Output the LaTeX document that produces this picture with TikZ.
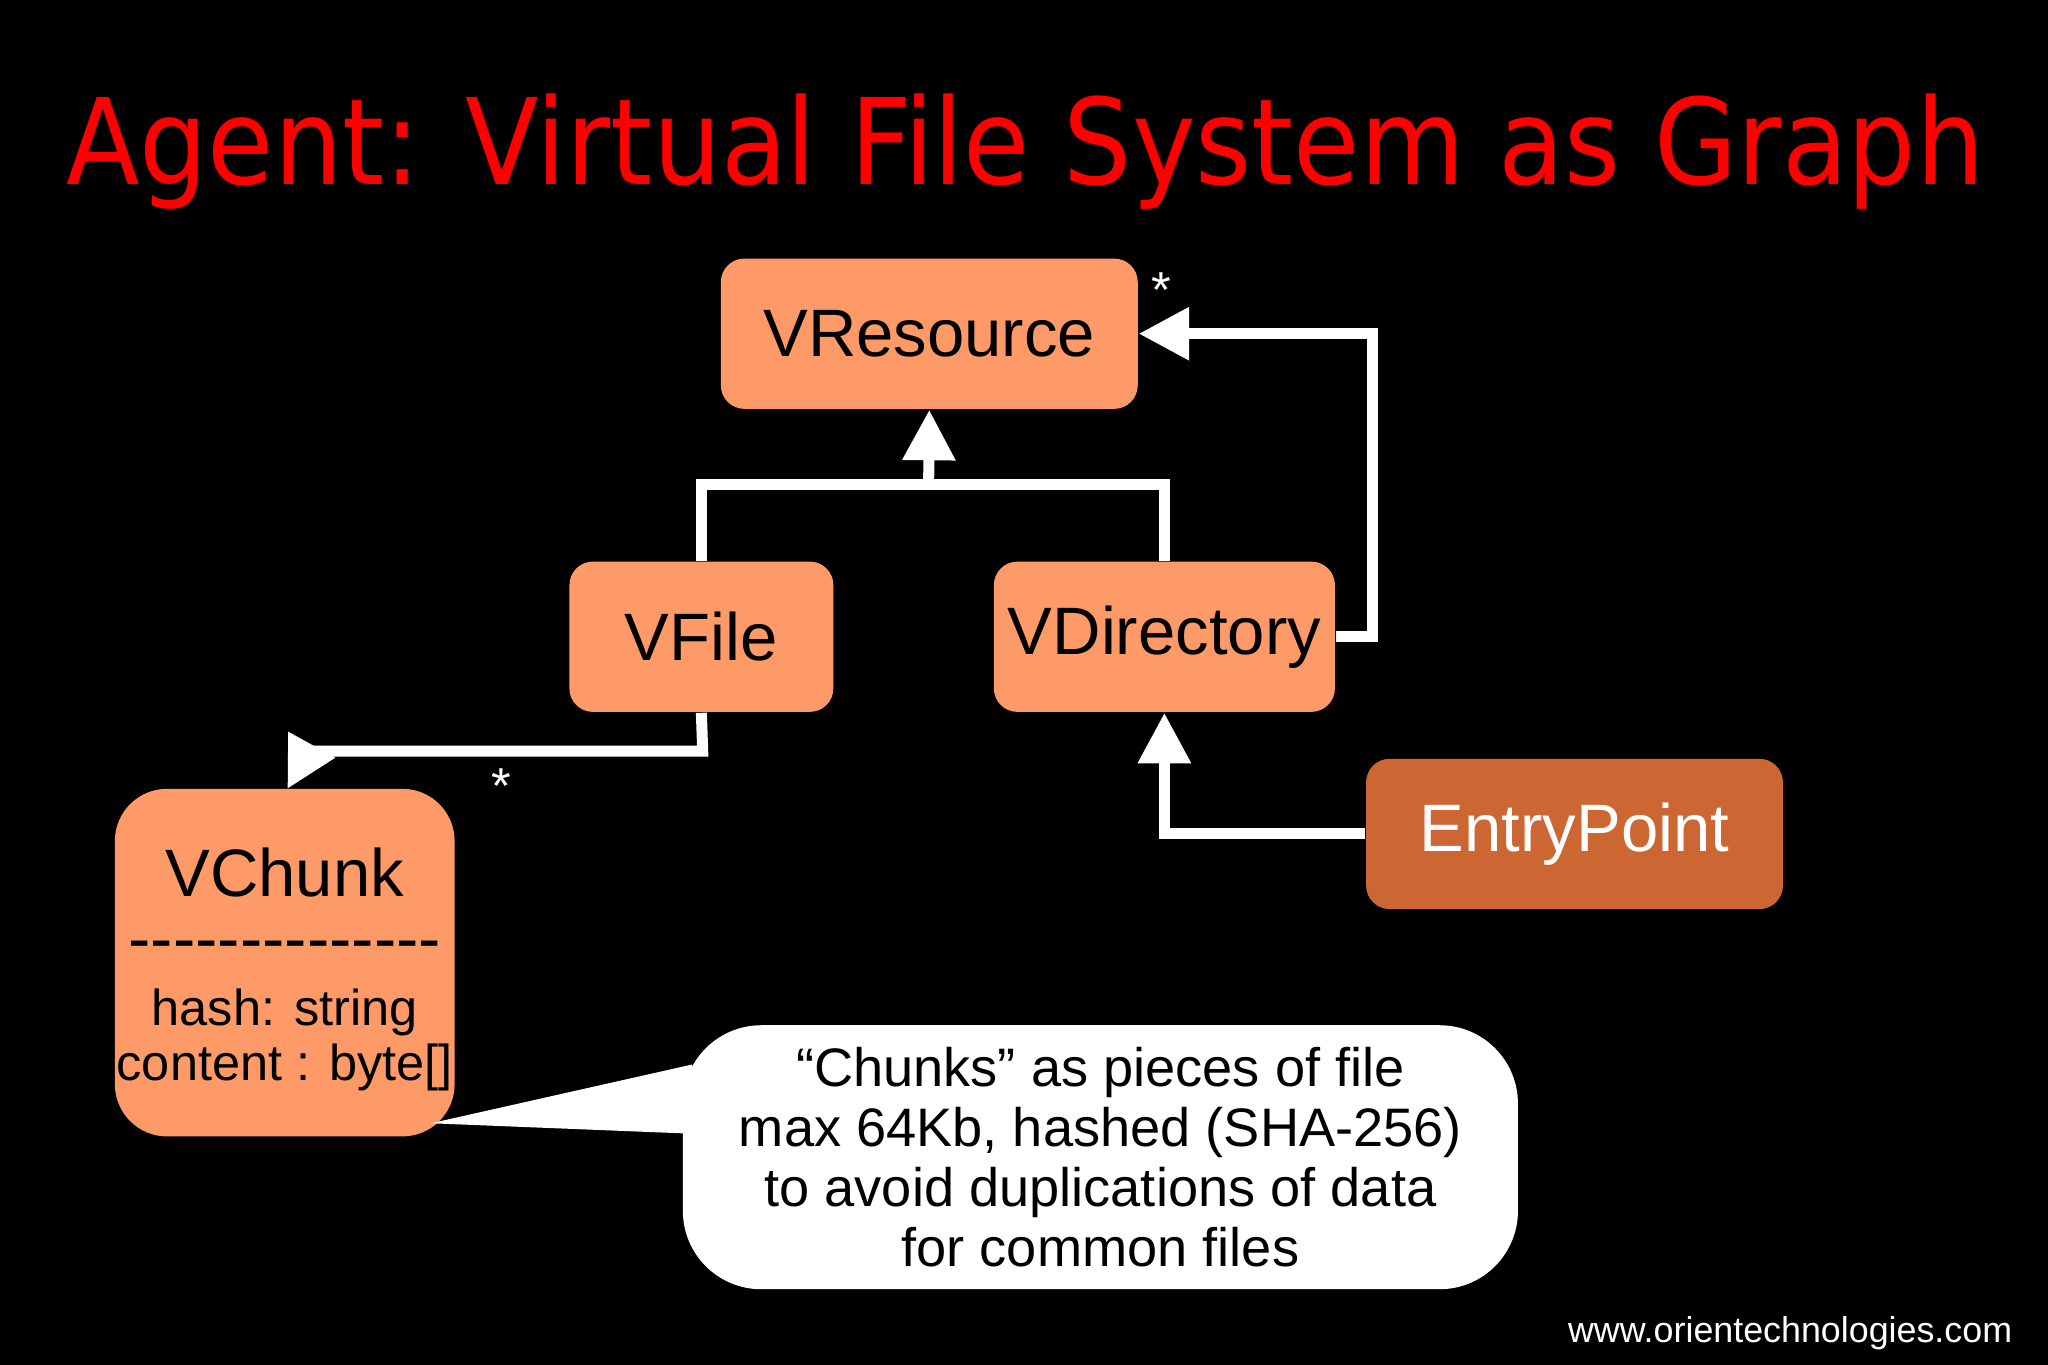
\documentclass[tikz,border=0pt]{standalone}
\usepackage{fontspec}
\setmainfont{Liberation Sans}
\newfontfamily\titlefont{DejaVu Sans Condensed}
\usetikzlibrary{arrows.meta}
\definecolor{salmon}{HTML}{FD9A68}
\definecolor{darkor}{HTML}{CC6633}
\begin{document}
\begin{tikzpicture}[x=0.01cm,y=-0.01cm,
  box/.style={draw=none,fill=salmon,rounded corners=0.18cm,font=\fontsize{14.6}{17}\selectfont,inner sep=0},
  conn/.style={draw=white,line width=2.4pt},
  tip/.style={-{Triangle[width=11pt,length=11pt]}}]
\fill[black] (0,0) rectangle (1568,1045);
\useasboundingbox (0,0) rectangle (1568,1045);
\node[text=red,font=\titlefont\fontsize{26}{30}\selectfont] (title) at (785,116) {Agent: Virtual File System as Graph};
\node[box,minimum width=3.19cm,minimum height=1.15cm] (res) at (711.5,255.5) {VResource};
\node[box,minimum width=2.02cm,minimum height=1.15cm] (file) at (537,487.5) {VFile};
\node[box,minimum width=2.61cm,minimum height=1.15cm] (dir) at (891.5,487.5) {VDirectory};
\node[box,fill=darkor,text=white,minimum width=3.19cm,minimum height=1.15cm] (ep) at (1205.5,638.5) {EntryPoint};
\node[box,rounded corners=0.4cm,minimum width=2.6cm,minimum height=2.66cm] (ch) at (218,737) {};
\node[font=\fontsize{14.6}{17}\selectfont] (chn) at (218,668) {VChunk};
\node[font=\fontsize{14.6}{17}\selectfont,inner sep=0] (dash) at (218,728) {{-}{-}{-}{-}{-}{-}{-}{-}{-}{-}{-}{-}{-}{-}};
\node[font=\fontsize{11}{12}\selectfont,align=center,inner sep=0] (attr) at (218,796) {hash: string\\content : byte[]};
% connectors
\coordinate (j) at (711,371);
\draw[conn] (file.north) |- (j) -| (dir.north);
\draw[conn,tip] (j) -- (res.south);
\coordinate (r1) at (1051,487.5);
\draw[conn,tip] (dir.east) -- (r1) |- (res.east);
\node[text=white,font=\fontsize{11}{13}\selectfont] (s1) at (889,222) {*};
\coordinate (f1) at (538,575);
\coordinate (f2) at (236,575);
\coordinate (f3) at (220,604);
\draw[conn] (file.south) -- (f1) -- (f2);
\draw[conn,tip] (f2) -- (f3);
\node[text=white,font=\fontsize{11}{13}\selectfont] (s2) at (384,602) {*};
\draw[conn,tip] (ep.west) -| (dir.south);
% callout
\fill[white] (330,860) -- (530,815) -- (530,868) -- cycle;
\node[fill=white,rounded corners=0.6cm,minimum width=6.39cm,minimum height=2.02cm,align=center,font=\fontsize{11.8}{13.1}\selectfont] (call) at (842.5,886) {“Chunks” as pieces of file\\max 64Kb, hashed (SHA-256)\\to avoid duplications of data\\for common files};
\node[text=white,font=\fontsize{7.8}{9}\selectfont,anchor=east] (url) at (1553,1021) {www.orientechnologies.com};
\end{tikzpicture}
\end{document}
